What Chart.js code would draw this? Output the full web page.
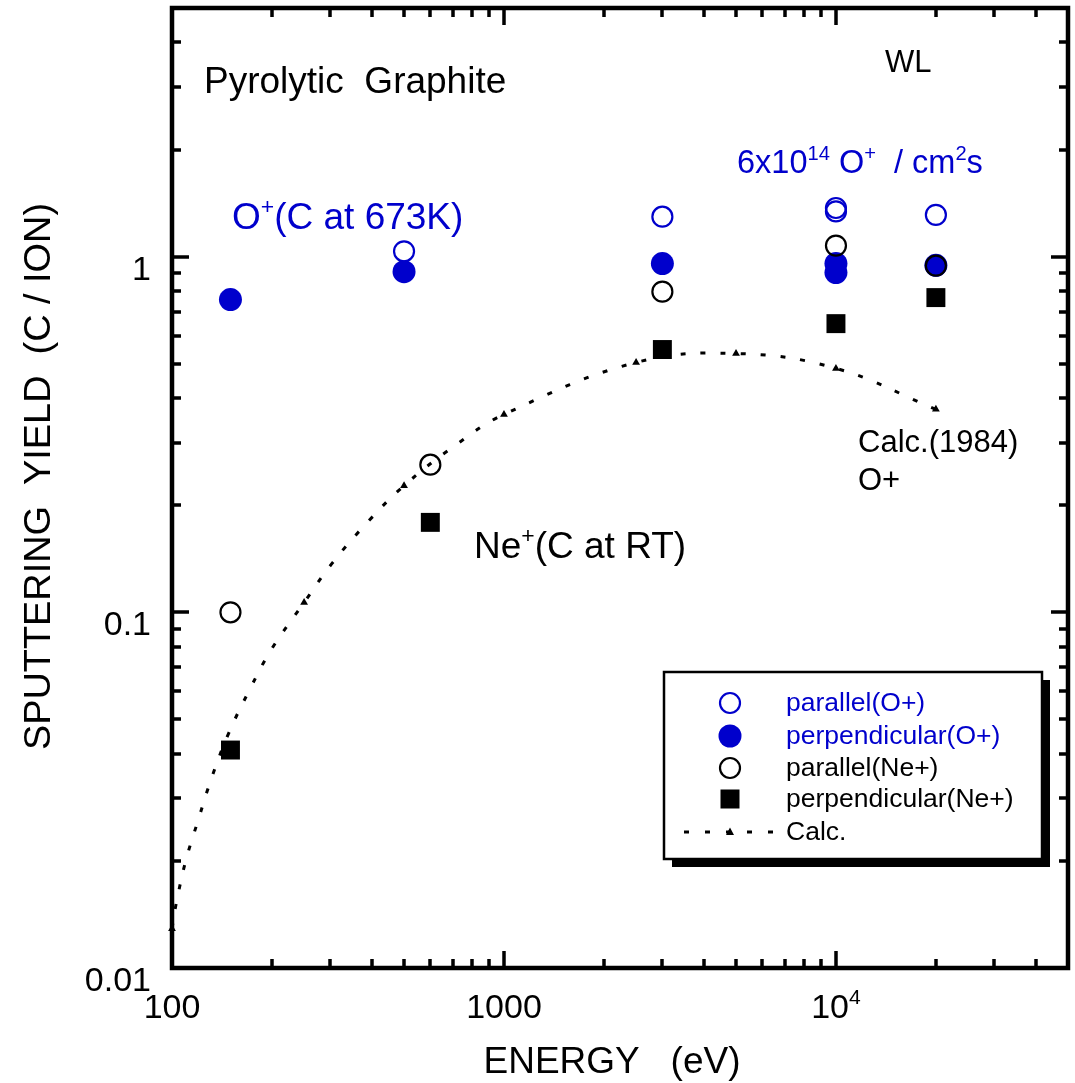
<!DOCTYPE html>
<html>
<head>
<meta charset="utf-8">
<title>Sputtering yield of pyrolytic graphite</title>
<script src="https://cdn.jsdelivr.net/npm/chart.js@4/dist/chart.umd.min.js"></script>
<style>
  html, body { margin: 0; padding: 0; background: #ffffff; }
  #wrap { width: 1075px; height: 1083px; position: relative; }
  canvas { display: block; }
</style>
</head>
<body>
<div id="wrap"><canvas id="chart" width="1075" height="1083"></canvas></div>
<script>
// ---- data (energy in eV, yield in C/ion) ----
// parallel(O+)
const parOE = [500, 3000, 10000, 10000, 20000];
const parOY = [1.035, 1.295, 1.37, 1.34, 1.31];
// perpendicular(O+)
const perpOE = [150, 500, 3000, 10000, 10000, 20000];
const perpOY = [0.757, 0.907, 0.956, 0.956, 0.902, 0.945];
// parallel(Ne+)
const parNeE = [150, 600, 3000, 10000, 20000];
const parNeY = [0.100, 0.260, 0.797, 1.074, 0.943];
// perpendicular(Ne+)
const perpNeE = [150, 600, 3000, 10000, 20000];
const perpNeY = [0.041, 0.179, 0.548, 0.648, 0.767];
// Calc.(1984) O+ : marked values
const calcE = [100, 250, 500, 1000, 2500, 5000, 10000, 20000];
const calcY = [0.0129, 0.1065, 0.227, 0.360, 0.504, 0.534, 0.485, 0.372];
// Calc.(1984) O+ : traced curve
const curveE = [100, 103, 110, 120, 132, 148, 171, 200, 250, 303, 392, 500, 707, 1000, 2500, 5000, 10000, 20000];
const curveY = [0.0129, 0.0152, 0.0200, 0.0261, 0.0345, 0.0456, 0.0604, 0.0791, 0.1065, 0.137, 0.181, 0.227, 0.293, 0.360, 0.504, 0.534, 0.485, 0.372];

// axis ranges and labels
const xMin = 100, xMax = 50000;
const yMin = 0.01, yMax = 5;
const xTickLabels = [[100, '100', ''], [1000, '1000', ''], [10000, '10', '4']];
const yTickLabels = [[1, '1'], [0.1, '0.1'], [0.01, '0.01']];

const BLUE = '#0000cc';
const BLACK = '#000000';
const FONT = '"Liberation Sans", Arial, Helvetica, sans-serif';

const pts = (xs, ys) => xs.map((x, i) => ({ x: x, y: ys[i] }));

// minor/major tick values over a log range
function logTicks(min, max) {
  const out = [];
  for (let d = Math.floor(Math.log10(min)); d <= Math.ceil(Math.log10(max)); d++) {
    for (let m = 1; m <= 9; m++) {
      const v = m * Math.pow(10, d);
      if (v >= min * 0.999 && v <= max * 1.001) out.push({ v: v, major: m === 1 });
    }
  }
  return out;
}

// draws a string made of normal and superscript runs
function drawRuns(ctx, x, y, runs, size, color, align) {
  ctx.fillStyle = color;
  ctx.textBaseline = 'alphabetic';
  ctx.textAlign = 'left';
  let total = 0;
  const widths = runs.map(([t, sup]) => {
    ctx.font = (sup ? size * 0.62 : size) + 'px ' + FONT;
    const w = ctx.measureText(t).width;
    total += w;
    return w;
  });
  let cx = align === 'center' ? x - total / 2 : (align === 'right' ? x - total : x);
  runs.forEach(([t, sup], i) => {
    ctx.font = (sup ? size * 0.62 : size) + 'px ' + FONT;
    ctx.fillText(t, cx, sup ? y - size * 0.40 : y);
    cx += widths[i];
  });
}

function marker(ctx, style, x, y) {
  ctx.save();
  if (style === 'openBlue' || style === 'openBlack') {
    ctx.strokeStyle = style === 'openBlue' ? BLUE : BLACK;
    ctx.lineWidth = 2.2;
    ctx.beginPath(); ctx.arc(x, y, 10, 0, Math.PI * 2); ctx.stroke();
  } else if (style === 'fillBlue') {
    ctx.fillStyle = BLUE;
    ctx.beginPath(); ctx.arc(x, y, 11.5, 0, Math.PI * 2); ctx.fill();
  } else if (style === 'square') {
    ctx.fillStyle = BLACK;
    ctx.fillRect(x - 9.5, y - 9.5, 19, 19);
  } else if (style === 'calc') {
    ctx.strokeStyle = BLACK;
    ctx.lineWidth = 3;
    ctx.setLineDash([5, 16]);
    ctx.beginPath(); ctx.moveTo(684, y); ctx.lineTo(778, y); ctx.stroke();
    ctx.setLineDash([]);
    ctx.fillStyle = BLACK;
    ctx.beginPath();
    ctx.moveTo(x, y - 4.5); ctx.lineTo(x + 4, y + 3); ctx.lineTo(x - 4, y + 3);
    ctx.closePath(); ctx.fill();
  }
  ctx.restore();
}

// frame, inward ticks, tick labels, titles, annotations and the legend box
const decorations = {
  id: 'decorations',
  beforeDatasetsDraw(chart) {
    const ctx = chart.ctx;
    const a = chart.chartArea;
    const xs = chart.scales.x, ys = chart.scales.y;
    ctx.save();
    ctx.strokeStyle = BLACK;
    ctx.lineWidth = 3.5;
    ctx.lineCap = 'butt';
    ctx.beginPath();
    logTicks(xMin, xMax).forEach(t => {
      const px = Math.round(xs.getPixelForValue(t.v));
      const len = t.major ? 17 : 9;
      ctx.moveTo(px, a.bottom); ctx.lineTo(px, a.bottom - len);
      ctx.moveTo(px, a.top); ctx.lineTo(px, a.top + len);
    });
    logTicks(yMin, yMax).forEach(t => {
      const py = Math.round(ys.getPixelForValue(t.v));
      const len = t.major ? 17 : 9;
      ctx.moveTo(a.left, py); ctx.lineTo(a.left + len, py);
      ctx.moveTo(a.right, py); ctx.lineTo(a.right - len, py);
    });
    ctx.stroke();
    ctx.lineWidth = 4.5;
    ctx.strokeRect(a.left, a.top, a.right - a.left, a.bottom - a.top);
    ctx.restore();
  },
  afterDraw(chart) {
    const ctx = chart.ctx;
    const a = chart.chartArea;
    const xs = chart.scales.x, ys = chart.scales.y;
    ctx.save();

    // tick labels
    xTickLabels.forEach(([v, base, sup]) => {
      const px = xs.getPixelForValue(v);
      drawRuns(ctx, px, a.bottom + 50, sup ? [[base, false], [sup, true]] : [[base, false]], 34, BLACK, 'center');
    });
    yTickLabels.forEach(([v, txt]) => {
      const py = ys.getPixelForValue(v);
      drawRuns(ctx, a.left - 21, py + 23, [[txt, false]], 34, BLACK, 'right');
    });

    // axis titles
    drawRuns(ctx, 612, 1073, [['ENERGY   (eV)', false]], 37, BLACK, 'center');
    ctx.save();
    ctx.translate(50, 476.5);
    ctx.rotate(-Math.PI / 2);
    ctx.font = '37px ' + FONT;
    const yTitle = 'SPUTTERING  YIELD  (C / ION)';
    const w = ctx.measureText(yTitle).width;
    ctx.scale(547 / w, 1);
    ctx.fillStyle = BLACK;
    ctx.textAlign = 'center';
    ctx.textBaseline = 'alphabetic';
    ctx.fillText(yTitle, 0, 0);
    ctx.restore();

    // annotations
    drawRuns(ctx, 204, 93, [['Pyrolytic  Graphite', false]], 37, BLACK, 'left');
    drawRuns(ctx, 885, 72, [['WL', false]], 31, BLACK, 'left');
    drawRuns(ctx, 737, 173, [['6x10', false], ['14', true], [' O', false], ['+', true], ['  / cm', false], ['2', true], ['s', false]], 32.5, BLUE, 'left');
    drawRuns(ctx, 232, 229, [['O', false], ['+', true], ['(C at 673K)', false]], 37, BLUE, 'left');
    drawRuns(ctx, 474, 558, [['Ne', false], ['+', true], ['(C at RT)', false]], 37, BLACK, 'left');
    drawRuns(ctx, 858, 452, [['Calc.(1984)', false]], 31, BLACK, 'left');
    drawRuns(ctx, 858, 490, [['O+', false]], 31, BLACK, 'left');

    // legend box with drop shadow
    const L = 664, T = 672, R = 1042, B = 859;
    ctx.fillStyle = BLACK;
    ctx.fillRect(L + 8, T + 8, R - L, B - T);
    ctx.fillStyle = '#ffffff';
    ctx.fillRect(L, T, R - L, B - T);
    ctx.strokeStyle = BLACK;
    ctx.lineWidth = 2.5;
    ctx.strokeRect(L, T, R - L, B - T);

    const rows = [703, 736, 768, 799, 832];
    chart.data.datasets.filter(d => d.legendStyle).forEach((d, i) => {
      marker(ctx, d.legendStyle, 730, rows[i]);
      ctx.font = '26.5px ' + FONT;
      ctx.fillStyle = d.legendColor;
      ctx.textAlign = 'left';
      ctx.textBaseline = 'middle';
      ctx.fillText(d.label, 786, rows[i] + 1);
    });
    ctx.restore();
  }
};

new Chart(document.getElementById('chart'), {
  type: 'line',
  data: {
    datasets: [
      {
        label: 'parallel(O+)', legendStyle: 'openBlue', legendColor: BLUE,
        data: pts(parOE, parOY), showLine: false, order: 4,
        pointStyle: 'circle', pointRadius: 10, pointBorderWidth: 2.2,
        pointBorderColor: BLUE, pointBackgroundColor: 'rgba(0,0,0,0)'
      },
      {
        label: 'perpendicular(O+)', legendStyle: 'fillBlue', legendColor: BLUE,
        data: pts(perpOE, perpOY), showLine: false, order: 3,
        pointStyle: 'circle', pointRadius: 11.5, pointBorderWidth: 0,
        pointBorderColor: BLUE, pointBackgroundColor: BLUE
      },
      {
        label: 'parallel(Ne+)', legendStyle: 'openBlack', legendColor: BLACK,
        data: pts(parNeE, parNeY), showLine: false, order: 2,
        pointStyle: 'circle', pointRadius: 10, pointBorderWidth: 2.2,
        pointBorderColor: BLACK, pointBackgroundColor: 'rgba(0,0,0,0)'
      },
      {
        label: 'perpendicular(Ne+)', legendStyle: 'square', legendColor: BLACK,
        data: pts(perpNeE, perpNeY), showLine: false, order: 1,
        pointStyle: 'rect', pointRadius: 13.4, pointBorderWidth: 0,
        pointBorderColor: BLACK, pointBackgroundColor: BLACK
      },
      {
        label: 'Calc.', legendStyle: 'calc', legendColor: BLACK,
        data: pts(calcE, calcY), showLine: false, order: 9, clip: false,
        pointStyle: 'triangle', pointRadius: 4.5, pointBorderWidth: 0,
        pointBorderColor: BLACK, pointBackgroundColor: BLACK
      },
      {
        label: 'Calc. curve',
        data: pts(curveE, curveY), order: 10, clip: false,
        borderColor: BLACK, borderWidth: 3, borderDash: [5, 15],
        tension: 0.4, pointRadius: 0, fill: false
      }
    ]
  },
  options: {
    responsive: false,
    animation: false,
    events: [],
    layout: { autoPadding: false, padding: { left: 172, right: 7, top: 8, bottom: 115 } },
    plugins: { legend: { display: false }, tooltip: { enabled: false } },
    scales: {
      x: { type: 'logarithmic', min: xMin, max: xMax, display: false },
      y: { type: 'logarithmic', min: yMin, max: yMax, display: false }
    }
  },
  plugins: [decorations]
});
</script>
</body>
</html>
